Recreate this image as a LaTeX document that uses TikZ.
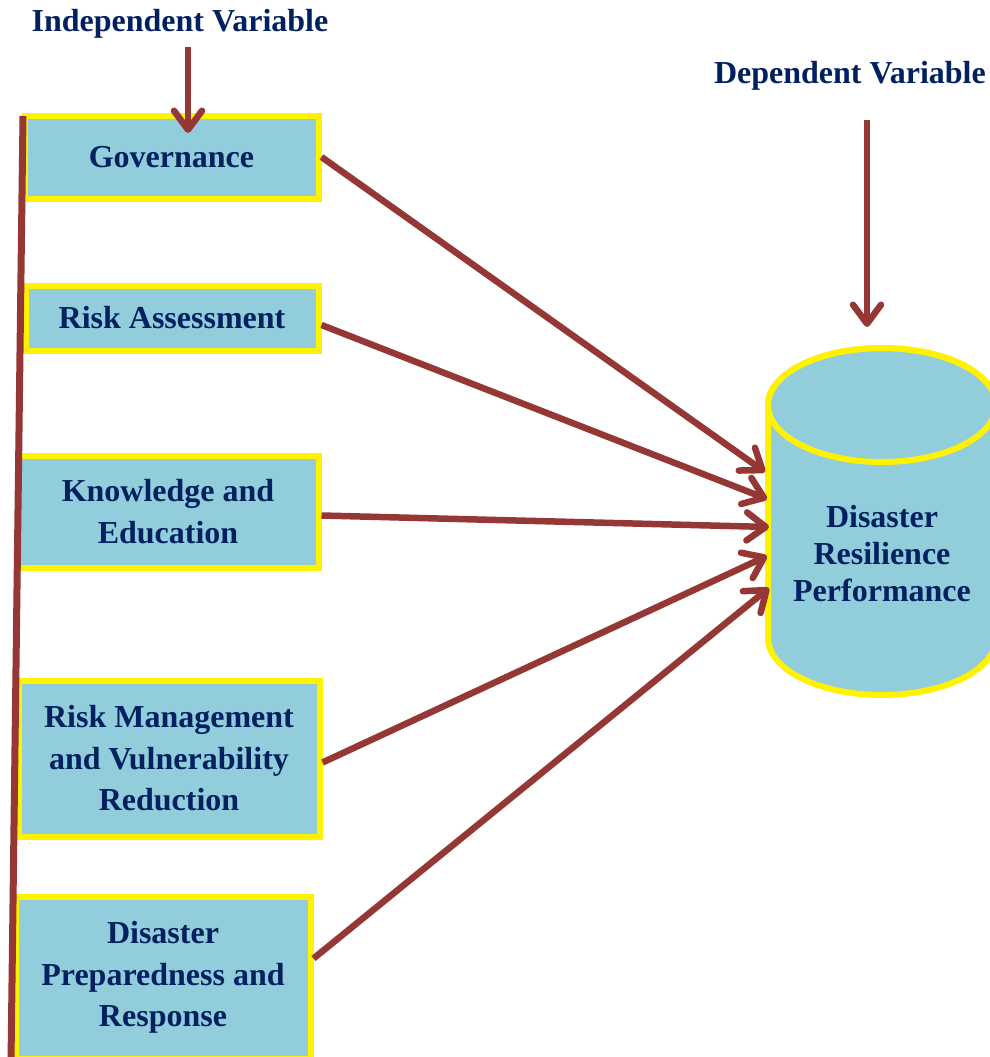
\documentclass[tikz,border=0pt]{standalone}
\usepackage{fontspec}
\setmainfont{Liberation Serif}
\usepackage{tikz}
\usetikzlibrary{
  positioning,
  arrows.meta,
  calc
}
\definecolor{boxblue}{HTML}{92CDDC}
\definecolor{linered}{HTML}{953735}
\definecolor{textnavy}{HTML}{002060}
\tikzstyle{factor}=[draw=yellow, fill=boxblue, line width=6pt, text=textnavy,
  font=\bfseries\fontsize{32}{41.5}\selectfont, align=center, inner sep=0pt]
\tikzstyle{heading}=[text=textnavy, font=\bfseries\fontsize{32}{37}\selectfont, inner sep=0pt]
\tikzstyle{link}=[->, >={Straight Barb[length=19pt, width=28pt, round]}, draw=linered, line width=6.5pt]

\begin{document}
\begin{tikzpicture}[x=1pt, y=-1pt]
    \useasboundingbox (0,0) rectangle (990,1057);
    \clip (0,0) rectangle (990,1057);

    % 見出し
    \node[heading, anchor=base] (iv) at (180,32) {Independent Variable};
    \node[heading, anchor=base east] (dv) at (986,84) {Dependent Variable};

    % 独立変数のボックス
    \node[factor, minimum width=294pt, minimum height=83pt] (gov) at (171.5,157) {Governance};
    \node[factor, minimum width=293pt, minimum height=65pt] (ra) at (172,318) {Risk Assessment};
    \node[factor, minimum width=301pt, minimum height=112pt] (ke) at (168,511.5) {Knowledge and\\Education};
    \node[factor, minimum width=301pt, minimum height=156pt] (rm) at (169,758.5) {Risk Management\\and Vulnerability\\Reduction};
    \node[factor, minimum width=295pt, minimum height=162pt] (dp) at (163,977.5) {Disaster\\Preparedness and\\Response};

    % 左の縦線
    \coordinate (spinetop) at (23,116);
    \coordinate (spinebot) at (11,1062);
    \draw[draw=linered, line width=7pt] (spinetop) -- (spinebot);

    % 従属変数の円柱
    \path[draw=yellow, fill=boxblue, line width=6pt]
      (768,405) -- (768,638) arc[start angle=180, end angle=0, x radius=114, y radius=57]
      -- (996,405) arc[start angle=0, end angle=-180, x radius=114, y radius=57] -- cycle;
    \draw[yellow, line width=6pt] (882,405) ellipse [x radius=114, y radius=57];
    \node[heading, align=center] (drp) at (882,554) {Disaster\\Resilience\\Performance};

    % 矢印の先
    \coordinate (in1) at (765,472);
    \coordinate (in2) at (767,499);
    \coordinate (in3) at (769,527);
    \coordinate (in4) at (767,556);
    \coordinate (in5) at (769,588);

    % 矢印
    \draw[link] (gov.east) -- (in1);
    \draw[link] ([yshift=-7pt]ra.east) -- (in2);
    \draw[link] ([yshift=-4pt]ke.east) -- (in3);
    \draw[link] ([yshift=-4pt]rm.east) -- (in4);
    \draw[link] ([yshift=19pt]dp.east) -- (in5);

    % 見出しからの矢印
    \coordinate (ivstart) at (188,47);
    \coordinate (ivtip) at (188,133);
    \draw[link] (ivstart) -- (ivtip);
    \coordinate (dvstart) at (867,120);
    \coordinate (dvtip) at (867,327);
    \draw[link] (dvstart) -- (dvtip);
  \end{tikzpicture}
\end{document}
